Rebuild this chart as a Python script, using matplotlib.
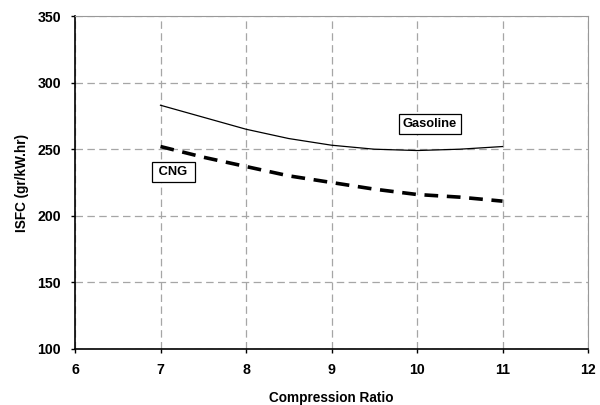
import matplotlib
matplotlib.use('Agg')
import matplotlib.pyplot as plt
import numpy as np

# compression ratio sweep
cr = [7, 7.5, 8, 8.5, 9, 9.5, 10, 10.5, 11]
isfc_gasoline = [283, 274, 265, 258, 253, 250, 249, 250, 252]
isfc_cng = [252, 244, 237, 230, 225, 220, 216, 214, 211]

plt.rcParams['font.family'] = ['Liberation Sans', 'DejaVu Sans']
plt.rcParams['font.weight'] = 'bold'

fig = plt.figure(figsize=(6, 4.05), dpi=100)
ax = fig.add_axes([75/600, 1-349/405, (588-75)/600, (349-16)/405])

ax.plot(cr, isfc_gasoline, color='black', lw=0.9)
ax.plot(cr, isfc_cng, color='black', lw=2.6, dashes=(3.8, 2.4))

ax.set_xlim(6, 12)
ax.set_ylim(100, 350)
ax.set_xticks(range(6, 13))
ax.set_yticks(range(100, 351, 50))
ax.grid(True, color='#a6a6a6', ls=(0, (6, 3.5)), lw=0.9)

for s in ['top', 'right']:
	ax.spines[s].set_color('#999999')
	ax.spines[s].set_linewidth(0.8)
for s in ['left', 'bottom']:
	ax.spines[s].set_linewidth(1.2)

ax.tick_params(labelsize=10.2, length=3, width=1.0, direction='out', pad=7)
for lab in ax.get_xticklabels() + ax.get_yticklabels():
	lab.set_fontweight('bold')

ax.set_xlabel('Compression Ratio', fontsize=9.8, fontweight='bold', labelpad=10)
ax.set_ylabel('ISFC (gr/kW.hr)', fontsize=9.8, fontweight='bold', labelpad=6)

box = dict(boxstyle='square,pad=0.3', fc='white', ec='black', lw=0.9)
ax.text(10.15, 269, 'Gasoline', fontsize=9.3, fontweight='bold', ha='center', va='center', bbox=box)
ax.text(7.15, 233, ' CNG ', fontsize=9.3, fontweight='bold', ha='center', va='center', bbox=box)

fig.savefig('out.png', dpi=100)
